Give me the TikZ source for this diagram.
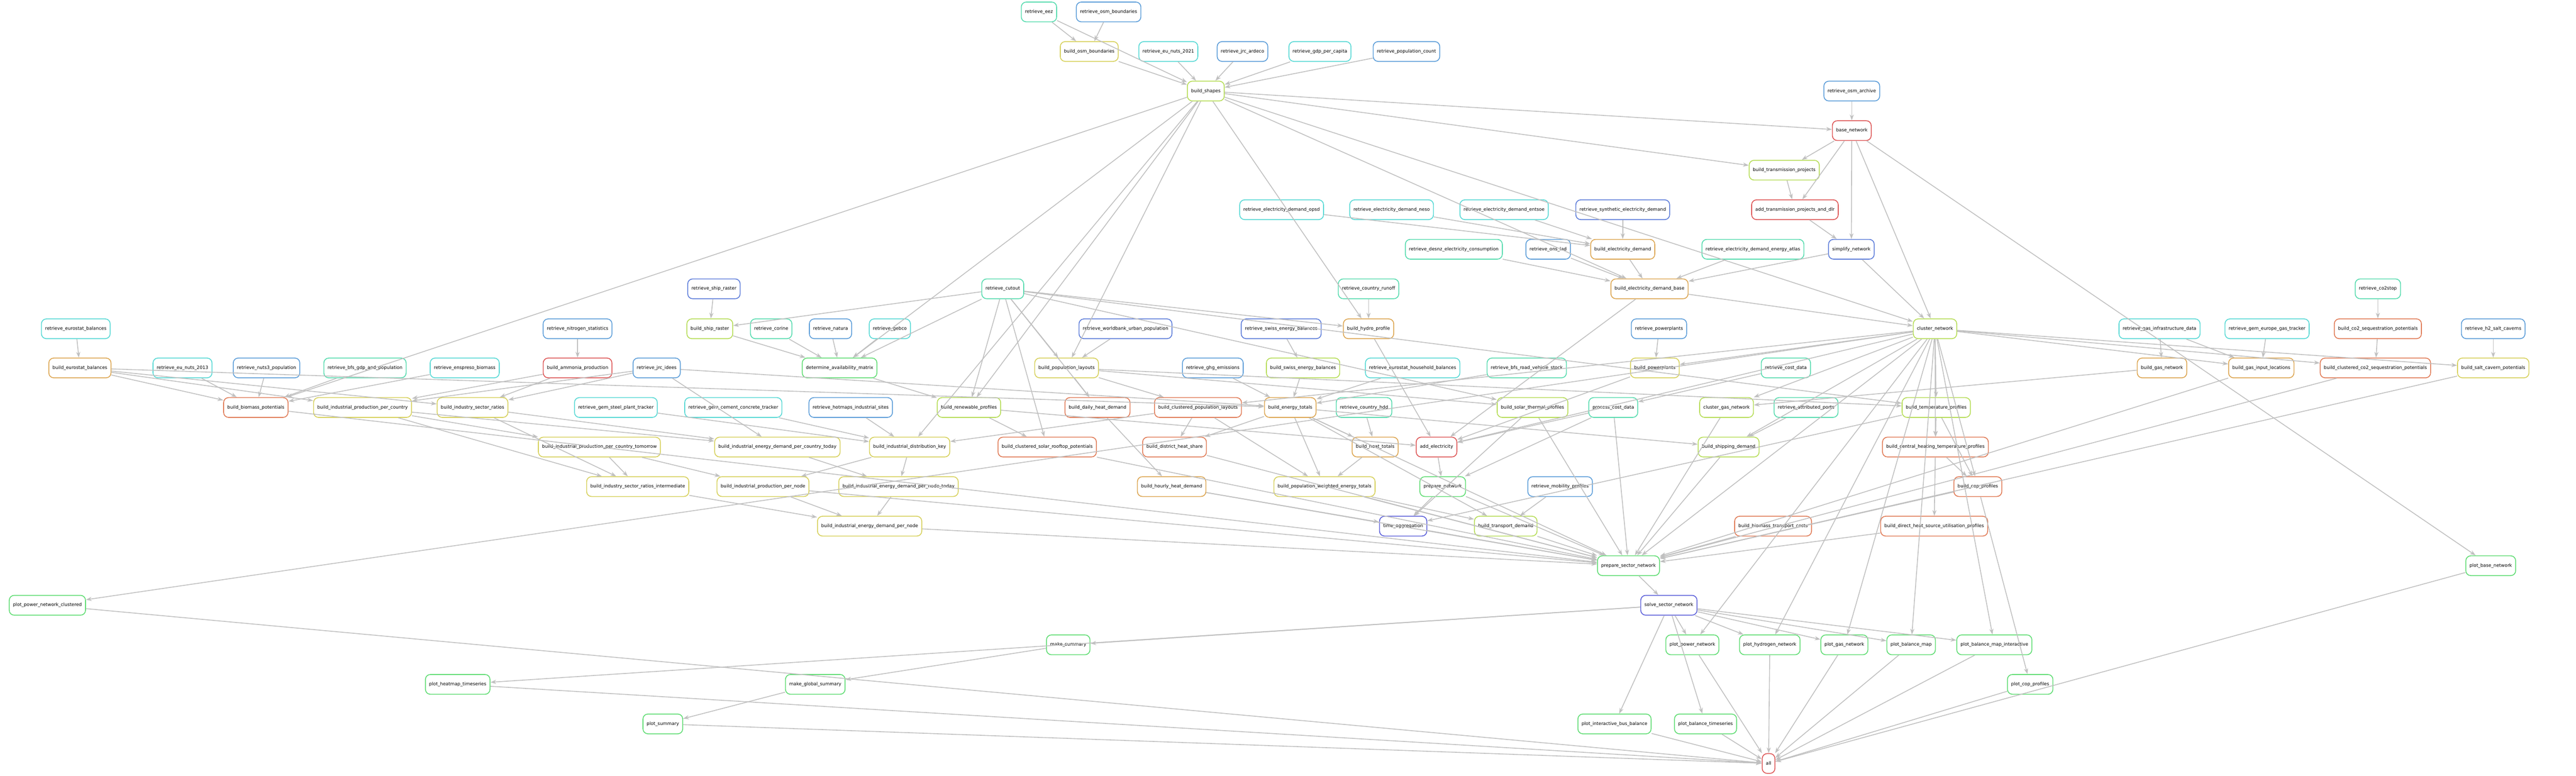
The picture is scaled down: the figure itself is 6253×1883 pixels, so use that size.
\documentclass[tikz,border=0pt]{standalone}
\usepackage{fontspec}
\setmainfont{DejaVu Sans}
\usetikzlibrary{arrows.meta}

\definecolor{cT}{HTML}{55D8D4}
\definecolor{cG}{HTML}{55DBAE}
\definecolor{cB}{HTML}{5A9CD8}
\definecolor{cD}{HTML}{5B7BD9}
\definecolor{cI}{HTML}{5B5FD9}
\definecolor{cY}{HTML}{D6D05A}
\definecolor{cL}{HTML}{B5DC55}
\definecolor{cN}{HTML}{5EDC72}
\definecolor{cO}{HTML}{DCA550}
\definecolor{cR}{HTML}{E07A55}
\definecolor{cE}{HTML}{DD5555}
\definecolor{cLine}{HTML}{C0C0C0}

\begin{document}
\begin{tikzpicture}[x=1pt, y=-1pt,
    main/.style = {draw=#1, fill=white, rounded corners=12, line width=2,
      minimum height=48, inner xsep=9, font=\fontsize{11}{13}\selectfont},
    link/.style = {draw=cLine, line width=2, -{Stealth[length=14, width=10]}}]
    \useasboundingbox (0,0) rectangle (6253,1883);

    % rows 0 - 4
    \node[main=cG] (retrieve_eez) at (2522,29) {retrieve\_eez};
    \node[main=cB] (retrieve_osm_boundaries) at (2691,29) {retrieve\_osm\_boundaries};
    \node[main=cY] (build_osm_boundaries) at (2644,125) {build\_osm\_boundaries};
    \node[main=cT] (retrieve_eu_nuts_2021) at (2836,125) {retrieve\_eu\_nuts\_2021};
    \node[main=cB] (retrieve_jrc_ardeco) at (3016,125) {retrieve\_jrc\_ardeco};
    \node[main=cT] (retrieve_gdp_per_capita) at (3204,125) {retrieve\_gdp\_per\_capita};
    \node[main=cB] (retrieve_population_count) at (3414,125) {retrieve\_population\_count};
    \node[main=cL] (build_shapes) at (2927,221) {build\_shapes};
    \node[main=cB] (retrieve_osm_archive) at (4495,221) {retrieve\_osm\_archive};
    \node[main=cE] (base_network) at (4495,317) {base\_network};
    \node[main=cL] (build_transmission_projects) at (4331,413) {build\_transmission\_projects};

    % rows 5 - 7
    \node[main=cT] (retrieve_electricity_demand_opsd) at (3111,509) {retrieve\_electricity\_demand\_opsd};
    \node[main=cT] (retrieve_electricity_demand_neso) at (3378,509) {retrieve\_electricity\_demand\_neso};
    \node[main=cT] (retrieve_electricity_demand_entsoe) at (3651,509) {retrieve\_electricity\_demand\_entsoe};
    \node[main=cD] (retrieve_synthetic_electricity_demand) at (3939,509) {retrieve\_synthetic\_electricity\_demand};
    \node[main=cE] (add_transmission_projects_and_dlr) at (4357,509) {add\_transmission\_projects\_and\_dlr};
    \node[main=cG] (retrieve_desnz_electricity_consumption) at (3529,605) {retrieve\_desnz\_electricity\_consumption};
    \node[main=cB] (retrieve_ons_lad) at (3758,605) {retrieve\_ons\_lad};
    \node[main=cO] (build_electricity_demand) at (3939,605) {build\_electricity\_demand};
    \node[main=cG] (retrieve_electricity_demand_energy_atlas) at (4255,605) {retrieve\_electricity\_demand\_energy\_atlas};
    \node[main=cD] (simplify_network) at (4494,605) {simplify\_network};
    \node[main=cD] (retrieve_ship_raster) at (1733,701) {retrieve\_ship\_raster};
    \node[main=cG] (retrieve_cutout) at (2434,701) {retrieve\_cutout};
    \node[main=cG] (retrieve_country_runoff) at (3322,701) {retrieve\_country\_runoff};
    \node[main=cO] (build_electricity_demand_base) at (4004,701) {build\_electricity\_demand\_base};
    \node[main=cG] (retrieve_co2stop) at (5772,701) {retrieve\_co2stop};

    % row 8
    \node[main=cT] (retrieve_eurostat_balances) at (184,798) {retrieve\_eurostat\_balances};
    \node[main=cB] (retrieve_nitrogen_statistics) at (1402,798) {retrieve\_nitrogen\_statistics};
    \node[main=cL] (build_ship_raster) at (1723,798) {build\_ship\_raster};
    \node[main=cG] (retrieve_corine) at (1872,798) {retrieve\_corine};
    \node[main=cB] (retrieve_natura) at (2016,798) {retrieve\_natura};
    \node[main=cT] (retrieve_gebco) at (2160,798) {retrieve\_gebco};
    \node[main=cD] (retrieve_worldbank_urban_population) at (2732,798) {retrieve\_worldbank\_urban\_population};
    \node[main=cD] (retrieve_swiss_energy_balances) at (3110,798) {retrieve\_swiss\_energy\_balances};
    \node[main=cO] (build_hydro_profile) at (3322,798) {build\_hydro\_profile};
    \node[main=cB] (retrieve_powerplants) at (4027,798) {retrieve\_powerplants};
    \node[main=cL] (cluster_network) at (4697,798) {cluster\_network};
    \node[main=cT] (retrieve_gas_infrastructure_data) at (5242,798) {retrieve\_gas\_infrastructure\_data};
    \node[main=cT] (retrieve_gem_europe_gas_tracker) at (5503,798) {retrieve\_gem\_europe\_gas\_tracker};
    \node[main=cR] (build_co2_sequestration_potentials) at (5772,798) {build\_co2\_sequestration\_potentials};
    \node[main=cB] (retrieve_h2_salt_caverns) at (6052,798) {retrieve\_h2\_salt\_caverns};

    % row 9
    \node[main=cO] (build_eurostat_balances) at (194,893) {build\_eurostat\_balances};
    \node[main=cT] (retrieve_eu_nuts_2013) at (443,893) {retrieve\_eu\_nuts\_2013};
    \node[main=cB] (retrieve_nuts3_population) at (647,893) {retrieve\_nuts3\_population};
    \node[main=cG] (retrieve_bfs_gdp_and_population) at (886,893) {retrieve\_bfs\_gdp\_and\_population};
    \node[main=cT] (retrieve_enspreso_biomass) at (1128,893) {retrieve\_enspreso\_biomass};
    \node[main=cE] (build_ammonia_production) at (1402,893) {build\_ammonia\_production};
    \node[main=cB] (retrieve_jrc_idees) at (1594,893) {retrieve\_jrc\_idees};
    \node[main=cN] (determine_availability_matrix) at (2038,893) {determine\_availability\_matrix};
    \node[main=cY] (build_population_layouts) at (2589,893) {build\_population\_layouts};
    \node[main=cB] (retrieve_ghg_emissions) at (2944,893) {retrieve\_ghg\_emissions};
    \node[main=cL] (build_swiss_energy_balances) at (3163,893) {build\_swiss\_energy\_balances};
    \node[main=cT] (retrieve_eurostat_household_balances) at (3429,893) {retrieve\_eurostat\_household\_balances};
    \node[main=cG] (retrieve_bfs_road_vehicle_stock) at (3706,893) {retrieve\_bfs\_road\_vehicle\_stock};
    \node[main=cY] (build_powerplants) at (4017,893) {build\_powerplants};
    \node[main=cG] (retrieve_cost_data) at (4335,893) {retrieve\_cost\_data};
    \node[main=cO] (build_gas_network) at (5248,893) {build\_gas\_network};
    \node[main=cO] (build_gas_input_locations) at (5489,893) {build\_gas\_input\_locations};
    \node[main=cR] (build_clustered_co2_sequestration_potentials) at (5766,893) {build\_clustered\_co2\_sequestration\_potentials};
    \node[main=cY] (build_salt_cavern_potentials) at (6052,893) {build\_salt\_cavern\_potentials};

    % row 10
    \node[main=cR] (build_biomass_potentials) at (621,989) {build\_biomass\_potentials};
    \node[main=cY] (build_industrial_production_per_country) at (880,989) {build\_industrial\_production\_per\_country};
    \node[main=cY] (build_industry_sector_ratios) at (1147,989) {build\_industry\_sector\_ratios};
    \node[main=cT] (retrieve_gem_steel_plant_tracker) at (1495,989) {retrieve\_gem\_steel\_plant\_tracker};
    \node[main=cT] (retrieve_gem_cement_concrete_tracker) at (1780,989) {retrieve\_gem\_cement\_concrete\_tracker};
    \node[main=cB] (retrieve_hotmaps_industrial_sites) at (2065,989) {retrieve\_hotmaps\_industrial\_sites};
    \node[main=cL] (build_renewable_profiles) at (2352,989) {build\_renewable\_profiles};
    \node[main=cR] (build_daily_heat_demand) at (2664,989) {build\_daily\_heat\_demand};
    \node[main=cR] (build_clustered_population_layouts) at (2908,989) {build\_clustered\_population\_layouts};
    \node[main=cO] (build_energy_totals) at (3132,989) {build\_energy\_totals};
    \node[main=cG] (retrieve_country_hdd) at (3311,989) {retrieve\_country\_hdd};
    \node[main=cL] (build_solar_thermal_profiles) at (3720,989) {build\_solar\_thermal\_profiles};
    \node[main=cG] (process_cost_data) at (3916,989) {process\_cost\_data};
    \node[main=cL] (cluster_gas_network) at (4191,989) {cluster\_gas\_network};
    \node[main=cG] (retrieve_attributed_ports) at (4384,989) {retrieve\_attributed\_ports};
    \node[main=cL] (build_temperature_profiles) at (4700,989) {build\_temperature\_profiles};

    % row 11
    \node[main=cY] (build_industrial_production_per_country_tomorrow) at (1455,1085) {build\_industrial\_production\_per\_country\_tomorrow};
    \node[main=cY] (build_industrial_energy_demand_per_country_today) at (1887,1085) {build\_industrial\_energy\_demand\_per\_country\_today};
    \node[main=cY] (build_industrial_distribution_key) at (2208,1085) {build\_industrial\_distribution\_key};
    \node[main=cR] (build_clustered_solar_rooftop_potentials) at (2542,1085) {build\_clustered\_solar\_rooftop\_potentials};
    \node[main=cR] (build_district_heat_share) at (2851,1085) {build\_district\_heat\_share};
    \node[main=cO] (build_heat_totals) at (3338,1085) {build\_heat\_totals};
    \node[main=cE] (add_electricity) at (3487,1085) {add\_electricity};
    \node[main=cL] (build_shipping_demand) at (4196,1085) {build\_shipping\_demand};
    \node[main=cR] (build_central_heating_temperature_profiles) at (4698,1085) {build\_central\_heating\_temperature\_profiles};

    % row 12 - 13
    \node[main=cY] (build_industry_sector_ratios_intermediate) at (1548,1181) {build\_industry\_sector\_ratios\_intermediate};
    \node[main=cY] (build_industrial_production_per_node) at (1852,1181) {build\_industrial\_production\_per\_node};
    \node[main=cY] (build_industrial_energy_demand_per_node_today) at (2181,1181) {build\_industrial\_energy\_demand\_per\_node\_today};
    \node[main=cO] (build_hourly_heat_demand) at (2844,1181) {build\_hourly\_heat\_demand};
    \node[main=cY] (build_population_weighted_energy_totals) at (3215,1181) {build\_population\_weighted\_energy\_totals};
    \node[main=cN] (prepare_network) at (3502,1181) {prepare\_network};
    \node[main=cB] (retrieve_mobility_profiles) at (3787,1181) {retrieve\_mobility\_profiles};
    \node[main=cR] (build_cop_profiles) at (4801,1181) {build\_cop\_profiles};
    \node[main=cY] (build_industrial_energy_demand_per_node) at (2111,1277) {build\_industrial\_energy\_demand\_per\_node};
    \node[main=cI] (time_aggregation) at (3406,1277) {time\_aggregation};
    \node[main=cL] (build_transport_demand) at (3655,1277) {build\_transport\_demand};
    \node[main=cR] (build_biomass_transport_costs) at (4304,1277) {build\_biomass\_transport\_costs};
    \node[main=cR] (build_direct_heat_source_utilisation_profiles) at (4695,1277) {build\_direct\_heat\_source\_utilisation\_profiles};

    % rows 14 - 19
    \node[main=cN] (prepare_sector_network) at (3953,1373) {prepare\_sector\_network};
    \node[main=cN] (plot_base_network) at (6046,1373) {plot\_base\_network};
    \node[main=cN] (plot_power_network_clustered) at (115,1469) {plot\_power\_network\_clustered};
    \node[main=cI] (solve_sector_network) at (4051,1469) {solve\_sector\_network};
    \node[main=cN] (make_summary) at (2593,1565) {make\_summary};
    \node[main=cN] (plot_power_network) at (4108,1565) {plot\_power\_network};
    \node[main=cN] (plot_hydrogen_network) at (4296,1565) {plot\_hydrogen\_network};
    \node[main=cN] (plot_gas_network) at (4477,1565) {plot\_gas\_network};
    \node[main=cN] (plot_balance_map) at (4639,1565) {plot\_balance\_map};
    \node[main=cN] (plot_balance_map_interactive) at (4841,1565) {plot\_balance\_map\_interactive};
    \node[main=cN] (plot_heatmap_timeseries) at (1111,1661) {plot\_heatmap\_timeseries};
    \node[main=cN] (make_global_summary) at (1979,1661) {make\_global\_summary};
    \node[main=cN] (plot_cop_profiles) at (4928,1661) {plot\_cop\_profiles};
    \node[main=cN] (plot_summary) at (1609,1757) {plot\_summary};
    \node[main=cN] (plot_interactive_bus_balance) at (3919,1757) {plot\_interactive\_bus\_balance};
    \node[main=cN] (plot_balance_timeseries) at (4140,1757) {plot\_balance\_timeseries};
    \node[main=cE] (all) at (4293,1853) {all};

    \begin{scope}[on background layer/.try]
    \path[link]
    (retrieve_eez) edge (build_osm_boundaries)
    (retrieve_eez) edge (build_shapes)
    (retrieve_osm_boundaries) edge (build_osm_boundaries)
    (build_osm_boundaries) edge (build_shapes)
    (retrieve_eu_nuts_2021) edge (build_shapes)
    (retrieve_jrc_ardeco) edge (build_shapes)
    (retrieve_gdp_per_capita) edge (build_shapes)
    (retrieve_population_count) edge (build_shapes)

    (build_shapes) edge (base_network)
    (build_shapes) edge (build_transmission_projects)
    (build_shapes) edge (build_electricity_demand_base)
    (build_shapes) edge (build_hydro_profile)
    (build_shapes) edge (determine_availability_matrix)
    (build_shapes) edge (build_population_layouts)
    (build_shapes) edge (build_biomass_potentials)
    (build_shapes) edge (build_renewable_profiles)
    (build_shapes) edge (cluster_network)
    (build_shapes) edge (build_industrial_distribution_key)

    (retrieve_osm_archive) edge (base_network)
    (base_network) edge (build_transmission_projects)
    (base_network) edge (add_transmission_projects_and_dlr)
    (base_network) edge (simplify_network)
    (base_network) edge (cluster_network)
    (base_network) edge (plot_base_network)
    (build_transmission_projects) edge (add_transmission_projects_and_dlr)
    (add_transmission_projects_and_dlr) edge (simplify_network)
    (simplify_network) edge (build_electricity_demand_base)
    (simplify_network) edge (cluster_network)

    (retrieve_electricity_demand_opsd) edge (build_electricity_demand)
    (retrieve_electricity_demand_neso) edge (build_electricity_demand)
    (retrieve_electricity_demand_entsoe) edge (build_electricity_demand)
    (retrieve_synthetic_electricity_demand) edge (build_electricity_demand)
    (retrieve_desnz_electricity_consumption) edge (build_electricity_demand_base)
    (retrieve_ons_lad) edge (build_electricity_demand_base)
    (build_electricity_demand) edge (build_electricity_demand_base)
    (retrieve_electricity_demand_energy_atlas) edge (build_electricity_demand_base)
    (build_electricity_demand_base) edge (cluster_network)
    (build_electricity_demand_base) edge (add_electricity)
    (retrieve_country_runoff) edge (build_hydro_profile)

    (retrieve_cutout) edge (build_ship_raster)
    (retrieve_cutout) edge (determine_availability_matrix)
    (retrieve_cutout) edge (build_population_layouts)
    (retrieve_cutout) edge (build_renewable_profiles)
    (retrieve_cutout) edge (build_daily_heat_demand)
    (retrieve_cutout) edge (build_hydro_profile)
    (retrieve_cutout) edge (build_solar_thermal_profiles)
    (retrieve_cutout) edge (build_temperature_profiles)
    (retrieve_cutout) edge (build_clustered_solar_rooftop_potentials)
    (retrieve_ship_raster) edge (build_ship_raster)
    (build_ship_raster) edge (determine_availability_matrix)
    (retrieve_corine) edge (determine_availability_matrix)
    (retrieve_natura) edge (determine_availability_matrix)
    (retrieve_gebco) edge (determine_availability_matrix)
    (determine_availability_matrix) edge (build_renewable_profiles)
    (retrieve_worldbank_urban_population) edge (build_population_layouts)
    (build_population_layouts) edge (build_clustered_population_layouts)
    (build_population_layouts) edge (build_daily_heat_demand)
    (build_population_layouts) edge (build_solar_thermal_profiles)
    (build_population_layouts) edge (build_temperature_profiles)

    (retrieve_swiss_energy_balances) edge (build_swiss_energy_balances)
    (build_swiss_energy_balances) edge (build_energy_totals)
    (retrieve_ghg_emissions) edge (build_energy_totals)
    (retrieve_eurostat_household_balances) edge (build_energy_totals)
    (retrieve_bfs_road_vehicle_stock) edge (build_energy_totals)
    (retrieve_jrc_idees) edge (build_energy_totals)
    (retrieve_jrc_idees) edge (build_industrial_production_per_country)
    (retrieve_jrc_idees) edge (build_industry_sector_ratios)
    (retrieve_jrc_idees) edge (build_industrial_energy_demand_per_country_today)
    (retrieve_eurostat_balances) edge (build_eurostat_balances)
    (build_eurostat_balances) edge (build_energy_totals)
    (build_eurostat_balances) edge (build_industrial_production_per_country)
    (build_eurostat_balances) edge (build_industry_sector_ratios)
    (build_eurostat_balances) edge (build_biomass_potentials)
    (retrieve_eu_nuts_2013) edge (build_biomass_potentials)
    (retrieve_nuts3_population) edge (build_biomass_potentials)
    (retrieve_bfs_gdp_and_population) edge (build_biomass_potentials)
    (retrieve_enspreso_biomass) edge (build_biomass_potentials)
    (retrieve_nitrogen_statistics) edge (build_ammonia_production)
    (build_ammonia_production) edge (build_industrial_production_per_country)
    (build_ammonia_production) edge (build_industry_sector_ratios)

    (build_industrial_production_per_country) edge (build_industrial_production_per_country_tomorrow)
    (build_industrial_production_per_country) edge (build_industry_sector_ratios_intermediate)
    (build_industrial_production_per_country) edge (build_industrial_energy_demand_per_country_today)
    (build_industrial_production_per_country_tomorrow) edge (build_industrial_production_per_node)
    (build_industrial_production_per_country_tomorrow) edge (build_industry_sector_ratios_intermediate)
    (build_industry_sector_ratios) edge (build_industry_sector_ratios_intermediate)
    (build_industry_sector_ratios) edge (build_industrial_energy_demand_per_country_today)
    (build_industry_sector_ratios_intermediate) edge (build_industrial_energy_demand_per_node)
    (retrieve_gem_steel_plant_tracker) edge (build_industrial_distribution_key)
    (retrieve_gem_cement_concrete_tracker) edge (build_industrial_distribution_key)
    (retrieve_hotmaps_industrial_sites) edge (build_industrial_distribution_key)
    (build_clustered_population_layouts) edge (build_industrial_distribution_key)
    (build_clustered_population_layouts) edge (build_district_heat_share)
    (build_clustered_population_layouts) edge (build_population_weighted_energy_totals)
    (build_industrial_distribution_key) edge (build_industrial_production_per_node)
    (build_industrial_distribution_key) edge (build_industrial_energy_demand_per_node_today)
    (build_industrial_energy_demand_per_country_today) edge (build_industrial_energy_demand_per_node_today)
    (build_industrial_production_per_node) edge (build_industrial_energy_demand_per_node)
    (build_industrial_energy_demand_per_node_today) edge (build_industrial_energy_demand_per_node)

    (build_renewable_profiles) edge (add_electricity)
    (build_renewable_profiles) edge (build_clustered_solar_rooftop_potentials)
    (build_daily_heat_demand) edge (build_hourly_heat_demand)
    (build_energy_totals) edge (build_heat_totals)
    (build_energy_totals) edge (build_population_weighted_energy_totals)
    (build_energy_totals) edge (build_district_heat_share)
    (build_energy_totals) edge (build_transport_demand)
    (build_energy_totals) edge (build_shipping_demand)
    (retrieve_country_hdd) edge (build_heat_totals)
    (build_heat_totals) edge (build_population_weighted_energy_totals)
    (retrieve_cost_data) edge (process_cost_data)
    (process_cost_data) edge (add_electricity)
    (process_cost_data) edge (prepare_network)
    (process_cost_data) edge (prepare_sector_network)
    (retrieve_powerplants) edge (build_powerplants)
    (build_powerplants) edge (add_electricity)
    (build_hydro_profile) edge (add_electricity)
    (add_electricity) edge (prepare_network)
    (prepare_network) edge (time_aggregation)
    (prepare_network) edge (prepare_sector_network)
    (retrieve_mobility_profiles) edge (build_transport_demand)
    (build_population_weighted_energy_totals) edge (build_transport_demand)
    (retrieve_attributed_ports) edge (build_shipping_demand)

    (cluster_network) edge (add_electricity)
    (cluster_network) edge (build_powerplants)
    (cluster_network) edge (build_gas_input_locations)
    (cluster_network) edge (build_clustered_co2_sequestration_potentials)
    (cluster_network) edge (build_salt_cavern_potentials)
    (cluster_network) edge (build_temperature_profiles)
    (cluster_network) edge (build_central_heating_temperature_profiles)
    (cluster_network) edge (build_cop_profiles)
    (cluster_network) edge (cluster_gas_network)
    (cluster_network) edge (build_shipping_demand)
    (cluster_network) edge (build_clustered_population_layouts)
    (cluster_network) edge (plot_power_network_clustered)
    (cluster_network) edge (plot_power_network)
    (cluster_network) edge (plot_hydrogen_network)
    (cluster_network) edge (plot_gas_network)
    (cluster_network) edge (plot_balance_map)
    (cluster_network) edge (plot_balance_map_interactive)
    (retrieve_gas_infrastructure_data) edge (build_gas_network)
    (retrieve_gas_infrastructure_data) edge (build_gas_input_locations)
    (retrieve_gem_europe_gas_tracker) edge (build_gas_input_locations)
    (build_gas_network) edge (cluster_gas_network)
    (retrieve_co2stop) edge (build_co2_sequestration_potentials)
    (build_co2_sequestration_potentials) edge (build_clustered_co2_sequestration_potentials)
    (retrieve_h2_salt_caverns) edge (build_salt_cavern_potentials)
    (build_temperature_profiles) edge (build_central_heating_temperature_profiles)
    (build_temperature_profiles) edge (build_cop_profiles)
    (build_temperature_profiles) edge (time_aggregation)
    (build_central_heating_temperature_profiles) edge (build_cop_profiles)
    (build_central_heating_temperature_profiles) edge (build_direct_heat_source_utilisation_profiles)
    (build_cop_profiles) edge (plot_cop_profiles)
    (build_hourly_heat_demand) edge (time_aggregation)
    (build_solar_thermal_profiles) edge (time_aggregation)

    (build_biomass_potentials) edge (prepare_sector_network)
    (build_industrial_energy_demand_per_node) edge (prepare_sector_network)
    (build_industrial_production_per_node) edge (prepare_sector_network)
    (build_clustered_solar_rooftop_potentials) edge (prepare_sector_network)
    (build_district_heat_share) edge (prepare_sector_network)
    (build_hourly_heat_demand) edge (prepare_sector_network)
    (build_energy_totals) edge (prepare_sector_network)
    (build_population_weighted_energy_totals) edge (prepare_sector_network)
    (build_solar_thermal_profiles) edge (prepare_sector_network)
    (time_aggregation) edge (prepare_sector_network)
    (build_transport_demand) edge (prepare_sector_network)
    (build_shipping_demand) edge (prepare_sector_network)
    (cluster_gas_network) edge (prepare_sector_network)
    (build_gas_input_locations) edge (prepare_sector_network)
    (build_clustered_co2_sequestration_potentials) edge (prepare_sector_network)
    (build_salt_cavern_potentials) edge (prepare_sector_network)
    (build_biomass_transport_costs) edge (prepare_sector_network)
    (build_cop_profiles) edge (prepare_sector_network)
    (build_direct_heat_source_utilisation_profiles) edge (prepare_sector_network)
    (cluster_network) edge (prepare_sector_network)

    (prepare_sector_network) edge (solve_sector_network)
    (solve_sector_network) edge (plot_power_network)
    (solve_sector_network) edge (plot_hydrogen_network)
    (solve_sector_network) edge (plot_gas_network)
    (solve_sector_network) edge (plot_balance_map)
    (solve_sector_network) edge (plot_balance_map_interactive)
    (solve_sector_network) edge (plot_interactive_bus_balance)
    (solve_sector_network) edge (plot_balance_timeseries)
    (solve_sector_network) edge (make_summary)
    (solve_sector_network) edge (plot_heatmap_timeseries)
    (make_summary) edge (make_global_summary)
    (make_global_summary) edge (plot_summary)

    (plot_power_network_clustered) edge (all)
    (plot_heatmap_timeseries) edge (all)
    (plot_summary) edge (all)
    (plot_interactive_bus_balance) edge (all)
    (plot_balance_timeseries) edge (all)
    (plot_power_network) edge (all)
    (plot_hydrogen_network) edge (all)
    (plot_gas_network) edge (all)
    (plot_balance_map) edge (all)
    (plot_balance_map_interactive) edge (all)
    (plot_cop_profiles) edge (all)
    (plot_base_network) edge (all)
    ;
    \end{scope}
\end{tikzpicture}
\end{document}
